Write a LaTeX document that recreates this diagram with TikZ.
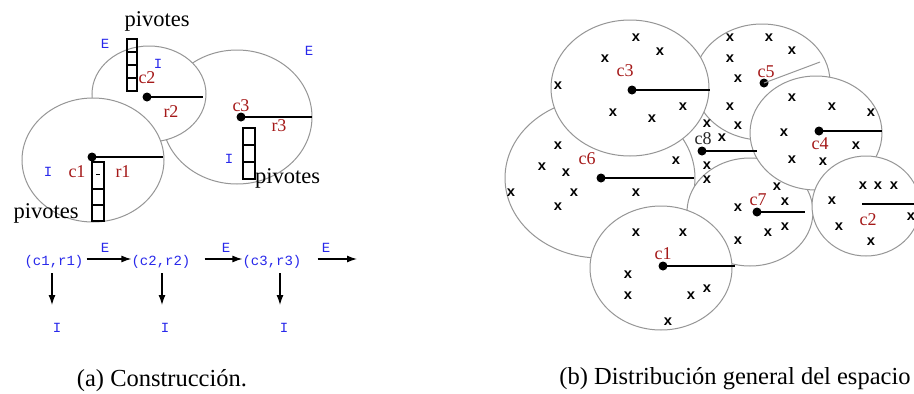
\documentclass[tikz,border=0pt]{standalone}
\usepackage{fontspec}
\setmainfont{Liberation Serif}
\newfontfamily\monof{Liberation Mono}
\usetikzlibrary{arrows.meta}
\definecolor{lblred}{RGB}{165,25,25}
\definecolor{lblblue}{RGB}{40,40,235}
\definecolor{circgray}{RGB}{150,150,150}
\begin{document}
\begin{tikzpicture}[x=1pt,y=-1pt,
  circ/.style={draw=circgray,fill=white,line width=1pt},
  dot/.style={circle,fill=black,inner sep=0pt,minimum size=9pt},
  rad/.style={line width=1.5pt},
  lbl/.style={text=lblred,font=\fontsize{18}{18}\selectfont,inner sep=0pt},
  blu/.style={text=lblblue,font=\monof\fontsize{14}{14}\selectfont,inner sep=0pt},
  piv/.style={font=\fontsize{22.5}{22.5}\selectfont,inner sep=0pt},
  xm/.style={font=\monof\bfseries\fontsize{14.5}{14.5}\selectfont,inner sep=0pt},
  pbox/.style={draw,line width=1.2pt},
  arr/.style={line width=1.3pt,-{Latex[length=10pt,width=7pt]}},
  captxt/.style={font=\fontsize{24.5}{24.5}\selectfont,inner sep=0pt}]
\clip (0,0) rectangle (914,394);
\fill[white] (0,0) rectangle (914,394);

% ---------------- (a) left panel ----------------
\filldraw[circ] (237,117) ellipse [x radius=75pt, y radius=67pt];
\filldraw[circ] (149,94) ellipse [x radius=57pt, y radius=48pt];
\filldraw[circ] (93,160) ellipse [x radius=71pt, y radius=62pt];

\node[dot] (a2) at (147,97) {};
\node[dot] (a3) at (241,117) {};
\node[dot] (a1) at (92,157) {};
\coordinate (a2e) at (203,97);
\coordinate (a3e) at (312,117);
\coordinate (a1e) at (163,157);
\draw[rad] (a2.center) -- (a2e);
\draw[rad] (a3.center) -- (a3e);
\draw[rad] (a1.center) -- (a1e);

% pivot boxes
\draw[pbox] (127,39) rectangle (137,91);
\draw[pbox] (127,52) -- (137,52) (127,65) -- (137,65) (127,78) -- (137,78);
\draw[pbox] (243,128) rectangle (255,179);
\draw[pbox] (243,145) -- (255,145) (243,162) -- (255,162);
\draw[pbox] (92,162) rectangle (104,221);
\draw[pbox] (92,189) -- (104,189) (92,205) -- (104,205);
\draw[line width=1pt] (96,174) -- (100,174);

\node[piv] (pv1) at (157,21) {pivotes};
\node[piv,anchor=west] (pv2) at (255,178) {pivotes};
\node[piv] (pv3) at (46,213) {pivotes};

\node[blu] (aE1) at (105,44) {E};
\node[blu] (aI1) at (158,64) {I};
\node[blu] (aE2) at (309,51) {E};
\node[blu] (aI2) at (229,159) {I};
\node[blu] (aI3) at (48,172) {I};

\node[lbl] (lc2) at (147,78) {c2};
\node[lbl] (lr2) at (171,112) {r2};
\node[lbl] (lc3) at (241,106) {c3};
\node[lbl] (lr3) at (279,126) {r3};
\node[lbl] (lc1) at (77,172) {c1};
\node[lbl] (lr1) at (123,172) {r1};

% chain
\node[blu] (cr1) at (54,262) {(c1,r1)};
\node[blu] (cr2) at (161,262) {(c2,r2)};
\node[blu] (cr3) at (272,262) {(c3,r3)};
\coordinate (crend) at (357,259);
\draw[arr] ([yshift=3pt]cr1.east) ++(3,0) -- ([yshift=3pt]cr2.west);
\draw[arr] ([yshift=3pt]cr2.east) ++(14,0) -- ([yshift=3pt]cr3.west);
\draw[arr] ([yshift=3pt]cr3.east) ++(16,0) -- (crend);
\node[blu] (hE1) at (105,248) {E};
\node[blu] (hE2) at (226,248) {E};
\node[blu] (hE3) at (326,248) {E};
\node[blu] (dI1) at (57,328) {I};
\node[blu] (dI2) at (165,328) {I};
\node[blu] (dI3) at (284,328) {I};
\coordinate (t1) at (52,305);
\coordinate (t2) at (162,305);
\coordinate (t3) at (280,305);
\draw[arr] (t1 |- 0,273) -- (t1);
\draw[arr] (t2 |- 0,273) -- (t2);
\draw[arr] (t3 |- 0,273) -- (t3);

\node[captxt] (capa) at (162,381) {(a) Construcción.};

% ---------------- (b) right panel ----------------
\filldraw[circ] (600,178) ellipse [x radius=95pt, y radius=80pt];
\filldraw[circ] (762,82) ellipse [x radius=68pt, y radius=58pt];
\filldraw[circ] (630,88) ellipse [x radius=79pt, y radius=68pt];
\filldraw[circ] (750,212) ellipse [x radius=63pt, y radius=54pt];
\filldraw[circ] (661,268) ellipse [x radius=71pt, y radius=62pt];
\filldraw[circ] (816,133) ellipse [x radius=66pt, y radius=57pt];
\filldraw[circ] (866,206) ellipse [x radius=54pt, y radius=50pt];

\node[dot] (b3) at (632,90) {};
\node[dot] (b5) at (764,83) {};
\node[dot] (b4) at (819,131) {};
\node[dot] (b8) at (702,151) {};
\node[dot] (b6) at (601,178) {};
\node[dot] (b7) at (757,212) {};
\node[dot] (b1) at (663,266) {};
\coordinate (b2) at (862,204);
\coordinate (b3e) at (710,90);
\coordinate (b5e) at (820,62);
\coordinate (b4e) at (882,131);
\coordinate (b8e) at (757,151);
\coordinate (b6e) at (694,178);
\coordinate (b7e) at (805,212);
\coordinate (b1e) at (735,266);
\coordinate (b2e) at (920,204);
\draw[rad] (b3.center) -- (b3e);
\draw[line width=1pt,draw=circgray] (b5.center) -- (b5e);
\draw[rad] (b4.center) -- (b4e);
\draw[rad] (b8.center) -- (b8e);
\draw[rad] (b6.center) -- (b6e);
\draw[rad] (b7.center) -- (b7e);
\draw[rad] (b1.center) -- (b1e);
\draw[rad] (b2) -- (b2e);

\node[lbl] (mc3) at (625,71) {c3};
\node[lbl] (mc5) at (766,72) {c5};
\node[lbl] (mc4) at (820,144) {c4};
\node[lbl] (mc6) at (587,159) {c6};
\node[lbl] (mc7) at (758,200) {c7};
\node[lbl] (mc2) at (868,220) {c2};
\node[lbl] (mc1) at (663,254) {c1};
\node[lbl,text=black!85] (mc8) at (703,139) {c8};

\foreach \p [count=\i] in {(636,38),(660,52),(605,59),(558,86),(683,107),(613,113),(652,119),
  (730,38),(769,38),(792,51),(730,59),(738,79),(730,107),(707,124),(738,126),
  (792,98),(832,107),(871,113),(784,133),(856,146),(792,160),(823,162),
  (722,138),(558,146),(542,167),(566,173),(676,161),(707,166),(707,180),
  (511,193),(574,193),(636,193),(863,186),(878,186),(894,186),
  (558,207),(777,187),(785,202),(738,208),(832,201),
  (636,233),(683,233),(768,233),(785,227),(839,227),
  (738,241),(871,242),(628,275),(628,296),(691,296),(707,289),(668,322),(911,217)}
  \node[xm] (x\i) at \p {x};

\node[captxt] (capb) at (735,379) {(b) Distribución general del espacio};
\end{tikzpicture}
\end{document}
